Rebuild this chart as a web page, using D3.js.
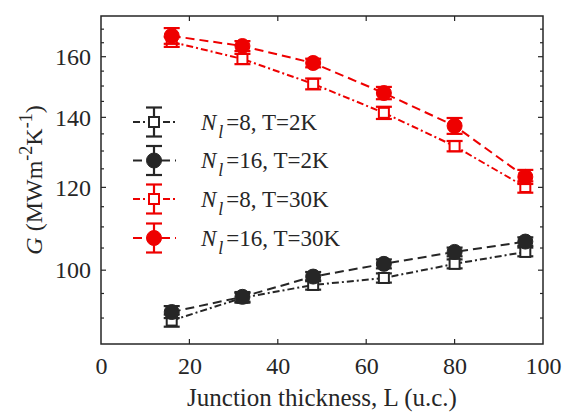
<!DOCTYPE html>
<html>
<head>
<meta charset="utf-8">
<script src="https://cdn.jsdelivr.net/npm/d3@7"></script>
<style>
  html, body { margin: 0; padding: 0; background: #fff; }
  svg { display: block; }
  svg text { font-family: "Liberation Serif", serif !important; }
</style>
</head>
<body>
<svg id="chart" width="562" height="413" font-family="Liberation Serif"></svg>
<script>
// Junction thickness (u.c.)
const thickness = [16, 32, 48, 64, 80, 96];

// Thermal conductance G (MW m^-2 K^-1) and error bars
const gN8T2   = [89.5, 94.1, 96.8, 98.3, 101.4, 104.1];
const eN8T2   = [1.2, 1.0, 1.0, 1.0, 1.0, 1.0];
const gN16T2  = [91.2, 94.3, 98.6, 101.4, 104.1, 106.5];
const eN16T2  = [1.2, 1.0, 1.0, 1.0, 1.0, 1.0];
const gN8T30  = [165.3, 159.2, 150.7, 141.4, 131.4, 120.1];
const eN8T30  = [1.8, 1.8, 1.8, 1.9, 1.5, 1.5];
const gN16T30 = [167.5, 163.8, 157.8, 147.7, 137.4, 122.8];
const eN16T30 = [2.9, 1.8, 1.5, 2.0, 2.4, 1.9];

const legendNl = ["8", "16", "8", "16"];
const legendT  = ["2K", "2K", "30K", "30K"];

const xTicks = [0, 20, 40, 60, 80, 100];
const yTicks = [100, 120, 140, 160];
const yMinor = d3.range(85, 176, 5);

const black = "#262626";
const red = "#ee0000";
const serif = "'Liberation Serif', serif";

const series = [
  { g: gN8T2,   e: eN8T2,   color: black, marker: "square", dash: "7,3,2,3" },
  { g: gN16T2,  e: eN16T2,  color: black, marker: "circle", dash: "9,5" },
  { g: gN8T30,  e: eN8T30,  color: red,   marker: "square", dash: "7,3,2,3" },
  { g: gN16T30, e: eN16T30, color: red,   marker: "circle", dash: "9,5" }
];

const svg = d3.select("#chart");
const box = { left: 101, right: 543, top: 16, bottom: 344 };

const x = d3.scaleLinear().domain([0, 100]).range([box.left, box.right]);
const y = d3.scaleLog().domain([85, 175]).range([box.bottom, box.top]);

// Axes box with inward ticks on all four sides
const axisG = svg.append("g");
const tickLen = 5, minorLen = 3;

const xAxis = d3.axisBottom(x).tickValues(xTicks).tickSize(0).tickPadding(13)
  .tickFormat(d3.format("d"));
const gx = axisG.append("g").attr("transform", `translate(0,${box.bottom})`).call(xAxis);
gx.select(".domain").remove();

const yAxis = d3.axisLeft(y).tickValues(yTicks).tickSize(0).tickPadding(10)
  .tickFormat(d3.format("d"));
const gy = axisG.append("g").attr("transform", `translate(${box.left},0)`).call(yAxis);
gy.select(".domain").remove();

axisG.selectAll("g").attr("font-family", serif).attr("font-size", 24);
axisG.selectAll("text").style("font-family", serif).style("fill", black);

// tick marks
const tk = axisG.append("g").attr("stroke", black).attr("stroke-width", 1.2);
xTicks.filter(d => d > 0 && d < 100).forEach(d => {
  tk.append("line").attr("x1", x(d)).attr("x2", x(d)).attr("y1", box.bottom).attr("y2", box.bottom - tickLen);
  tk.append("line").attr("x1", x(d)).attr("x2", x(d)).attr("y1", box.top).attr("y2", box.top + tickLen);
});
yMinor.filter(d => d > 85 && d < 175).forEach(d => {
  const len = yTicks.includes(d) ? tickLen : minorLen;
  tk.append("line").attr("x1", box.left).attr("x2", box.left + len).attr("y1", y(d)).attr("y2", y(d));
  tk.append("line").attr("x1", box.right).attr("x2", box.right - len).attr("y1", y(d)).attr("y2", y(d));
});

axisG.append("rect")
  .attr("x", box.left).attr("y", box.top)
  .attr("width", box.right - box.left).attr("height", box.bottom - box.top)
  .attr("fill", "none").attr("stroke", black).attr("stroke-width", 1.5);

// Axis labels
svg.append("text")
  .attr("x", (box.left + box.right) / 2).attr("y", 406)
  .attr("text-anchor", "middle").attr("font-size", 25)
  .style("font-family", serif).style("fill", black)
  .text("Junction thickness, L (u.c.)");

const yl = svg.append("text")
  .attr("transform", `translate(42,${(box.top + box.bottom) / 2}) rotate(-90)`)
  .attr("text-anchor", "middle").attr("font-size", 24)
  .style("font-family", serif).style("fill", black);
yl.append("tspan").attr("font-style", "italic").text("G");
yl.append("tspan").text(" (MWm");
yl.append("tspan").attr("font-size", 18).attr("dy", -10).text("-2");
yl.append("tspan").attr("dy", 10).text("K");
yl.append("tspan").attr("font-size", 18).attr("dy", -10).text("-1");
yl.append("tspan").attr("dy", 10).text(")");

// Marker drawing helper
function drawMarker(g, cx, cy, s) {
  if (s.marker === "circle") {
    g.append("circle").attr("cx", cx).attr("cy", cy).attr("r", 7.5)
      .attr("fill", s.color).attr("stroke", s.color).attr("stroke-width", 1);
  } else {
    const h = 5;
    g.append("rect").attr("x", cx - h).attr("y", cy - h)
      .attr("width", 2 * h).attr("height", 2 * h)
      .attr("fill", "#fff").attr("stroke", s.color).attr("stroke-width", 2);
  }
}

function drawErr(g, cx, y1, y2, color) {
  const cap = 8;
  g.append("line").attr("x1", cx).attr("x2", cx).attr("y1", y1).attr("y2", y2)
    .attr("stroke", color).attr("stroke-width", 2.2);
  g.append("line").attr("x1", cx - cap).attr("x2", cx + cap).attr("y1", y1).attr("y2", y1)
    .attr("stroke", color).attr("stroke-width", 2.2);
  g.append("line").attr("x1", cx - cap).attr("x2", cx + cap).attr("y1", y2).attr("y2", y2)
    .attr("stroke", color).attr("stroke-width", 2.2);
}

const plot = svg.append("g");
const line = d3.line().x(d => x(d[0])).y(d => y(d[1]));

series.forEach(s => {
  const g = plot.append("g");
  const pts = thickness.map((t, i) => [t, s.g[i], s.e[i]]);
  g.append("path").datum(pts).attr("d", line)
    .attr("fill", "none").attr("stroke", s.color).attr("stroke-width", 2)
    .attr("stroke-dasharray", s.dash);
  pts.forEach(p => {
    drawErr(g, x(p[0]), y(p[1] + p[2]), y(p[1] - p[2]), s.color);
    drawMarker(g, x(p[0]), y(p[1]), s);
  });
});

// Legend
const legendY = [122, 160.5, 199, 238];
const leg = svg.append("g");
series.forEach((s, i) => {
  const cy = legendY[i], cx = 154;
  leg.append("line").attr("x1", 133).attr("x2", 176).attr("y1", cy).attr("y2", cy)
    .attr("stroke", s.color).attr("stroke-width", 2).attr("stroke-dasharray", s.dash);
  drawErr(leg, cx, cy - 14.5, cy + 14.5, s.color);
  drawMarker(leg, cx, cy, s);
  const t = leg.append("text").attr("x", 201).attr("y", cy + 7.5)
    .attr("font-size", 23).style("font-family", serif).style("fill", black);
  t.append("tspan").attr("font-style", "italic").text("N");
  t.append("tspan").attr("font-style", "italic").attr("font-size", 18).attr("dy", 8).attr("dx", 2).text("l");
  t.append("tspan").attr("dy", -8).attr("dx", 3).text(`=${legendNl[i]}, T=${legendT[i]}`);
});
</script>
</body>
</html>
